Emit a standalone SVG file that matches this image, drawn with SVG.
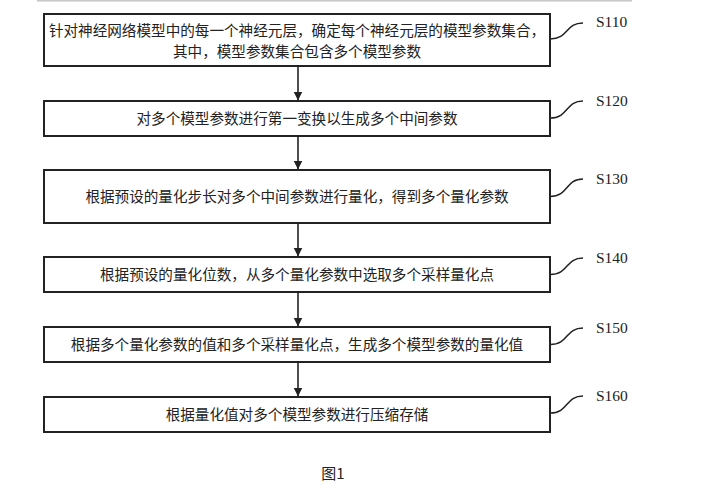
<svg xmlns="http://www.w3.org/2000/svg" width="708" height="500" viewBox="0 0 708 500">
<style>
.box{fill:#fff;stroke:#222;stroke-width:2}
.t{font-family:"Noto Sans CJK SC","Noto Sans",sans-serif;font-size:14.6px;fill:#222;text-anchor:middle}
.lbl{font-family:"Liberation Serif","Noto Sans CJK SC",serif;font-size:15.5px;fill:#222}
.lead{fill:none;stroke:#222;stroke-width:1.5}
.arr{stroke:#222;stroke-width:1.6;fill:none}
</style>
<defs>
<marker id="ah" markerWidth="9" markerHeight="10" refX="8.5" refY="5" orient="auto" markerUnits="userSpaceOnUse" viewBox="0 0 9 10">
<path d="M0,0.5 L9,5 L0,9.5 Z" fill="#222"/>
</marker>
</defs>
<rect width="708" height="500" fill="#fff"/>
<rect x="37" y="0" width="595" height="1.6" fill="#c8c8c8"/>
<g id="connectors">
<line class="arr" x1="298" y1="66" x2="298" y2="100" marker-end="url(#ah)"/>
<line class="arr" x1="298" y1="136" x2="298" y2="169" marker-end="url(#ah)"/>
<line class="arr" x1="298" y1="223" x2="298" y2="256" marker-end="url(#ah)"/>
<line class="arr" x1="298" y1="292" x2="298" y2="326" marker-end="url(#ah)"/>
<line class="arr" x1="298" y1="362" x2="298" y2="396" marker-end="url(#ah)"/>
</g>
<g id="S110">
<rect class="box" x="44" y="14" width="506" height="52"/>
<text class="t" x="297" y="35.5">针对神经网络模型中的每一个神经元层，确定每个神经元层的模型参数集合，</text>
<text class="t" x="297" y="56.5">其中，模型参数集合包含多个模型参数</text>
<path class="lead" d="M550,39 C569,39 565,23 583,23"/>
<text class="lbl" x="596" y="27">S110</text>
</g>
<g id="S120">
<rect class="box" x="44" y="101" width="506" height="35"/>
<text class="t" x="297" y="123.5">对多个模型参数进行第一变换以生成多个中间参数</text>
<path class="lead" d="M550,118 C569,118 565,101 583,101"/>
<text class="lbl" x="596" y="106">S120</text>
</g>
<g id="S130">
<rect class="box" x="44" y="170" width="506" height="53"/>
<text class="t" x="297" y="202">根据预设的量化步长对多个中间参数进行量化，得到多个量化参数</text>
<path class="lead" d="M550,196.5 C569,196.5 565,179 583,179"/>
<text class="lbl" x="596" y="184">S130</text>
</g>
<g id="S140">
<rect class="box" x="44" y="257" width="506" height="35"/>
<text class="t" x="297" y="279.5">根据预设的量化位数，从多个量化参数中选取多个采样量化点</text>
<path class="lead" d="M550,274.5 C569,274.5 565,258 583,258"/>
<text class="lbl" x="596" y="263">S140</text>
</g>
<g id="S150">
<rect class="box" x="44" y="327" width="506" height="35"/>
<text class="t" x="297" y="349.5">根据多个量化参数的值和多个采样量化点，生成多个模型参数的量化值</text>
<path class="lead" d="M550,344.5 C569,344.5 565,328 583,328"/>
<text class="lbl" x="596" y="333">S150</text>
</g>
<g id="S160">
<rect class="box" x="44" y="397" width="506" height="35"/>
<text class="t" x="297" y="419.5">根据量化值对多个模型参数进行压缩存储</text>
<path class="lead" d="M550,413 C569,413 565,396 583,396"/>
<text class="lbl" x="596" y="401">S160</text>
</g>
<text class="t" x="333" y="479" style="font-size:15px">图1</text>
</svg>
